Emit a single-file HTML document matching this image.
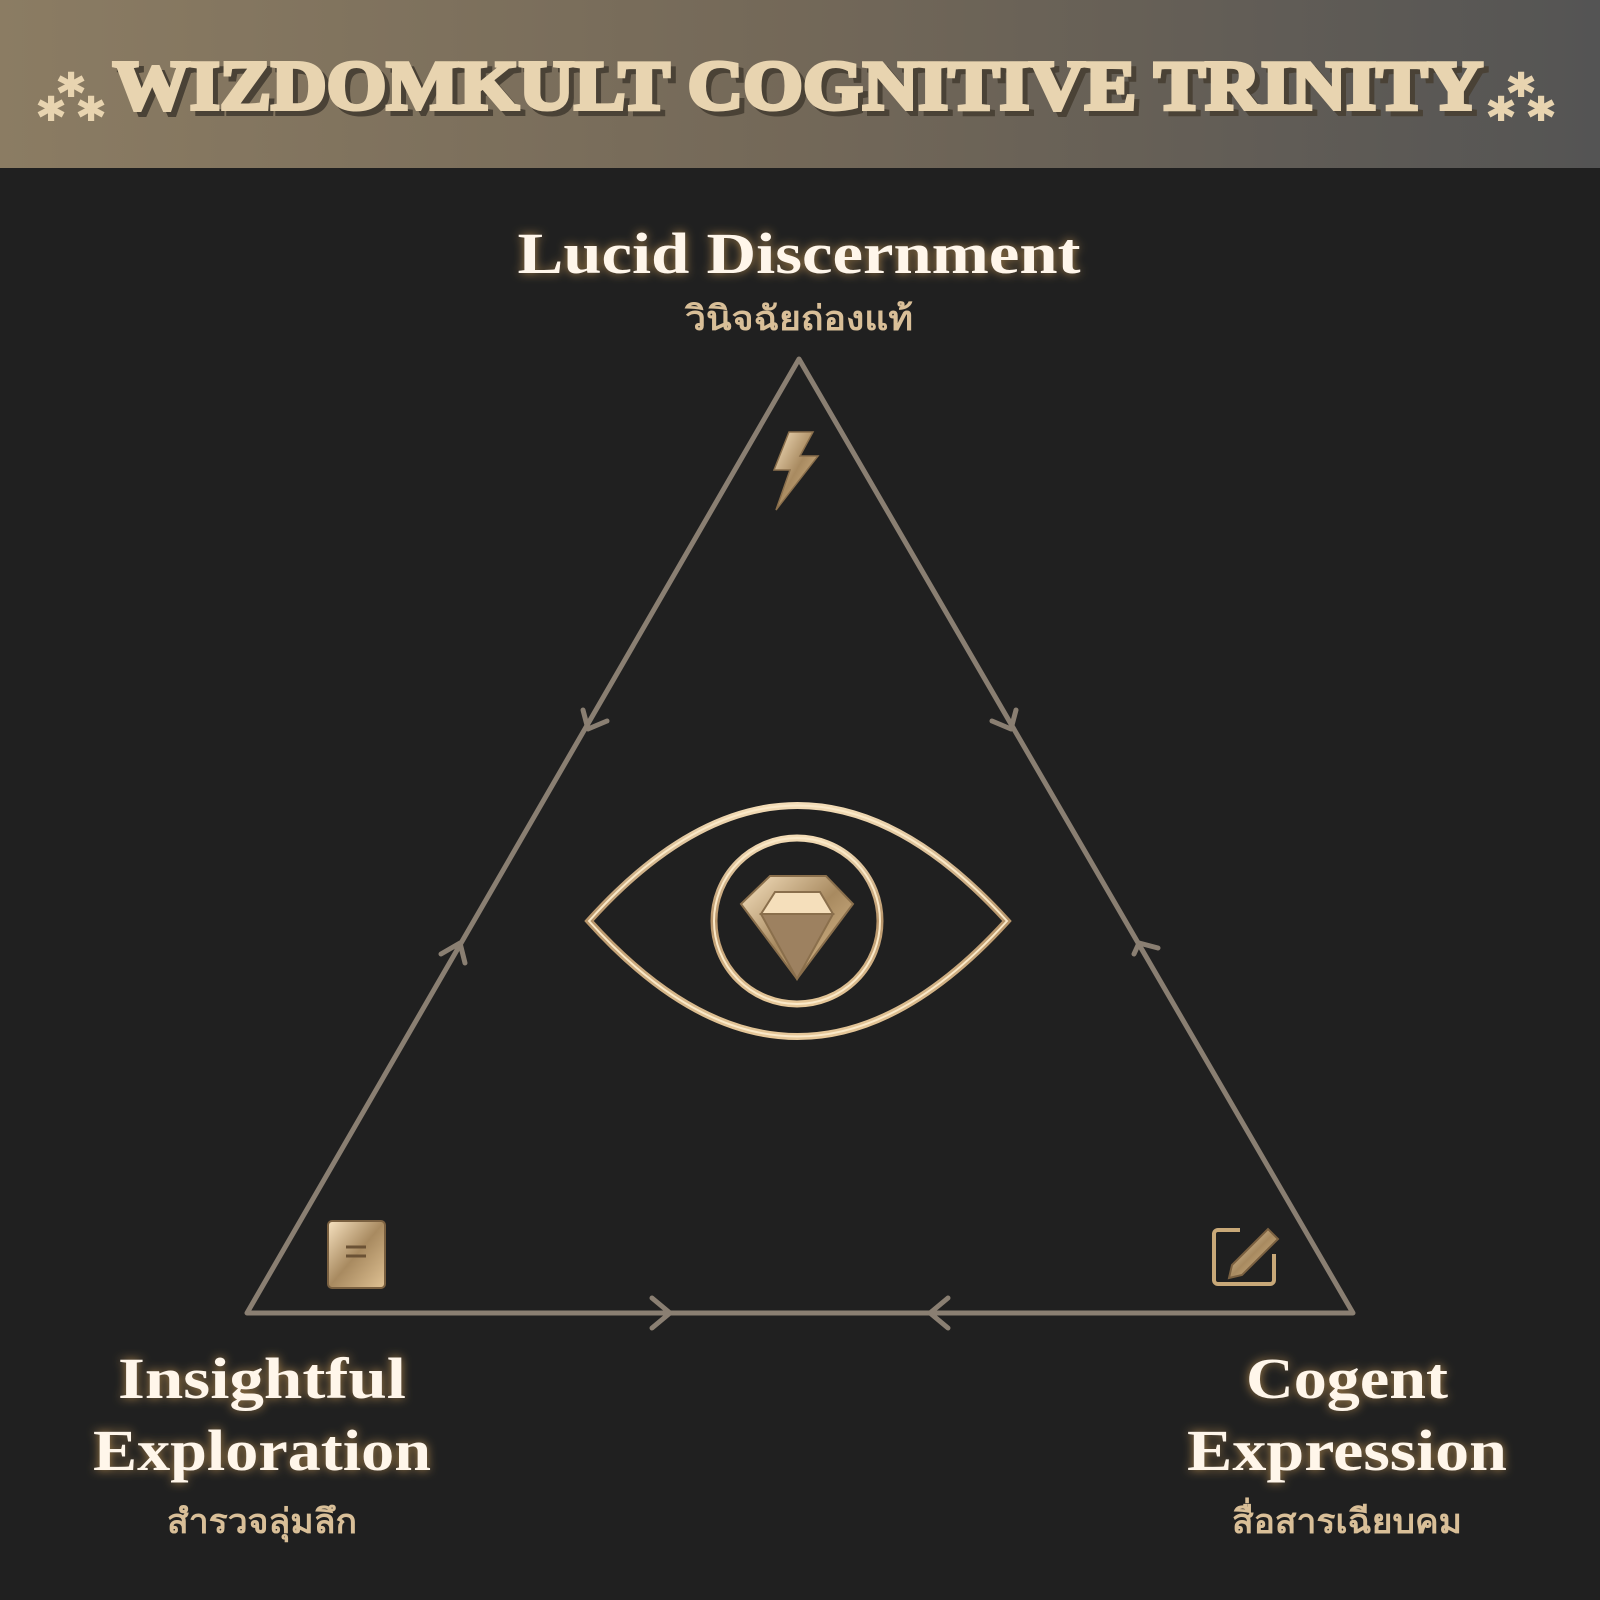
<!DOCTYPE html>
<html><head><meta charset="utf-8"><style>
html,body{margin:0;padding:0;background:#202020;}
svg{display:block}
</style></head><body>
<svg width="1600" height="1600" viewBox="0 0 1600 1600" xmlns="http://www.w3.org/2000/svg">
<defs>
<linearGradient id="hdr" x1="0" x2="1" y1="0" y2="0">
<stop offset="0" stop-color="#8b7c63"/><stop offset="0.5" stop-color="#736858"/><stop offset="1" stop-color="#545454"/>
</linearGradient>
<linearGradient id="gold" x1="0" y1="0" x2="0" y2="1">
<stop offset="0" stop-color="#f3dcb6"/><stop offset="0.5" stop-color="#b8956a"/><stop offset="1" stop-color="#e6c89a"/>
</linearGradient>
<linearGradient id="gem" x1="0" y1="0" x2="1" y2="1">
<stop offset="0" stop-color="#f7e2c0"/><stop offset="0.5" stop-color="#a88a60"/><stop offset="1" stop-color="#e0c294"/>
</linearGradient>
<filter id="glow" x="-20%" y="-50%" width="140%" height="200%">
<feGaussianBlur stdDeviation="5" result="b"/>
<feFlood flood-color="#c99a55" flood-opacity="0.8"/><feComposite in2="b" operator="in" result="g"/>
<feMerge><feMergeNode in="g"/><feMergeNode in="SourceGraphic"/></feMerge>
</filter>
</defs>
<rect width="1600" height="1600" fill="#202020"/>
<rect width="1600" height="168" fill="url(#hdr)"/>
<g font-family="Liberation Serif, serif" font-weight="bold" fill="#e8d4b0">
<text x="803" y="114" font-size="70" fill="#4a4236" textLength="1370" lengthAdjust="spacingAndGlyphs" text-anchor="middle" stroke="#4a4236" stroke-width="4">WIZDOMKULT COGNITIVE TRINITY</text>
<text x="798" y="109" font-size="70" textLength="1370" lengthAdjust="spacingAndGlyphs" text-anchor="middle" stroke="#e8d4b0" stroke-width="4">WIZDOMKULT COGNITIVE TRINITY</text>
<g font-size="50" font-family="DejaVu Sans, sans-serif" stroke="#e8d4b0" stroke-width="2">
<text x="58" y="110">*</text><text x="38" y="134">*</text><text x="78" y="134">*</text>
<text x="1508" y="110">*</text><text x="1488" y="134">*</text><text x="1528" y="134">*</text>
</g>
</g>
<!-- triangle -->
<g stroke="#8a7f72" stroke-width="5" fill="none" stroke-linecap="round" stroke-linejoin="round">
<polygon points="799,359 247,1313 1353,1313"/>
<polyline points="583,710 588,729 607,721"/>
<polyline points="441,954 460,943 465,963"/>
<polyline points="992,721 1011,729 1016,710"/>
<polyline points="1134,954 1139,943 1158,948" />
<polyline points="652,1298 670,1313 652,1328"/>
<polyline points="948,1298 930,1313 948,1328"/>
</g>
<!-- labels -->
<g font-family="Liberation Serif, serif" font-weight="bold" fill="#fff6ea" text-anchor="middle" filter="url(#glow)" lengthAdjust="spacingAndGlyphs">
<text x="799" y="273" font-size="58" textLength="563" lengthAdjust="spacingAndGlyphs">Lucid Discernment</text>
<text x="262" y="1398" font-size="58" textLength="288" lengthAdjust="spacingAndGlyphs">Insightful</text>
<text x="262" y="1470" font-size="58" textLength="338" lengthAdjust="spacingAndGlyphs">Exploration</text>
<text x="1347" y="1398" font-size="58" textLength="202" lengthAdjust="spacingAndGlyphs">Cogent</text>
<text x="1347" y="1470" font-size="58" textLength="320" lengthAdjust="spacingAndGlyphs">Expression</text>
</g>
<g font-family="Liberation Serif, 'Noto Serif CJK SC', serif" font-weight="bold" fill="#d9bf98" text-anchor="middle" font-size="34">
<text x="799" y="330" textLength="228" lengthAdjust="spacingAndGlyphs">วินิจฉัยถ่องแท้</text>
<text x="262" y="1533" textLength="190" lengthAdjust="spacingAndGlyphs">สำรวจลุ่มลึก</text>
<text x="1347" y="1533" textLength="230" lengthAdjust="spacingAndGlyphs">สื่อสารเฉียบคม</text>
</g>
<!-- eye -->
<g fill="none" stroke="url(#gold)">
<path d="M589,921 Q797,690 1007,921 Q797,1152 589,921 Z" stroke-width="7"/>
<path d="M589,921 Q797,690 1007,921 Q797,1152 589,921 Z" stroke-width="2" stroke="#fbe9c8"/>
<circle cx="797" cy="921" r="83" stroke-width="7"/>
<circle cx="797" cy="921" r="83" stroke-width="2" stroke="#fbe9c8"/>
</g>
<g stroke="#8a6f4c" stroke-width="2">
<polygon points="770,876 826,876 853,904 797,979 741,904" fill="url(#gem)"/>
<polygon points="775,892 820,892 833,914 761,914" fill="#f5dfbb"/>
<polygon points="761,914 833,914 797,979" fill="#9d8160"/>
</g>
<!-- bolt -->
<polygon points="789,432 813,432 800,456 818,456 776,510 790,470 774,470" fill="url(#gem)" stroke="#8a6f4c" stroke-width="1.5"/>
<!-- book -->
<rect x="328" y="1221" width="57" height="67" rx="4" fill="url(#gem)" stroke="#7a6040" stroke-width="2"/>
<line x1="346" y1="1247" x2="366" y2="1247" stroke="#6b5235" stroke-width="3"/>
<line x1="346" y1="1256" x2="366" y2="1256" stroke="#6b5235" stroke-width="3"/>
<!-- edit -->
<path d="M1240,1230 H1218 a4,4 0 0 0 -4,4 V1280 a4,4 0 0 0 4,4 H1270 a4,4 0 0 0 4,-4 V1254" fill="none" stroke="#c8a878" stroke-width="4"/>
<path d="M1232,1265 L1268,1229 L1278,1239 L1242,1275 L1229,1278 Z" fill="url(#gem)" stroke="#7a6040" stroke-width="2"/>
</svg>
</body></html>
